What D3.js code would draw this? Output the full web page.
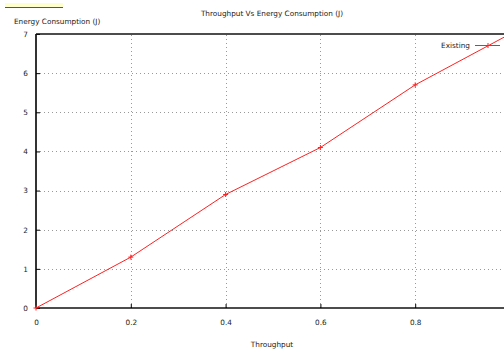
<!DOCTYPE html>
<html>
<head>
<meta charset="utf-8">
<script src="https://cdn.jsdelivr.net/npm/d3@7"></script>
<style>
body { margin: 0; background: #fff; }
text { font-family: "DejaVu Sans", sans-serif; font-size: 7.3px; fill: #222; }
</style>
</head>
<body>
<svg id="chart" width="504" height="352"></svg>
<script>
const throughput = [0, 0.2, 0.4, 0.6, 0.8, 1.0];
const energy = [0, 1.3, 2.9, 4.1, 5.7, 7.0];
const xTicks = [0, 0.2, 0.4, 0.6, 0.8];
const yTicks = [0, 1, 2, 3, 4, 5, 6, 7];

const svg = d3.select("#chart");
const x = d3.scaleLinear().domain([0, 1]).range([36, 510]);
const y = d3.scaleLinear().domain([0, 7]).range([308, 34]);

// yellow bar top-left
svg.append("rect").attr("x", 5).attr("y", 3).attr("width", 58).attr("height", 4).attr("fill", "#ffffcc");
svg.append("line").attr("x1", 5).attr("x2", 63).attr("y1", 7.5).attr("y2", 7.5).attr("stroke", "#555");

// grid
const grid = svg.append("g").attr("stroke", "#999").attr("stroke-dasharray", "1,3");
grid.selectAll(".gx").data(xTicks.slice(1)).join("line")
  .attr("x1", d => Math.round(x(d)) + 0.5).attr("x2", d => Math.round(x(d)) + 0.5)
  .attr("y1", y(0)).attr("y2", y(7));
grid.selectAll(".gy").data(yTicks.slice(1, -1)).join("line")
  .attr("x1", x(0)).attr("x2", 504)
  .attr("y1", d => Math.round(y(d)) + 0.5).attr("y2", d => Math.round(y(d)) + 0.5);

// axes
const xAxis = d3.axisBottom(x).tickValues(xTicks).tickSize(-4).tickPadding(12)
  .tickFormat(d => d === 0 ? "0" : d3.format(".1f")(d));
svg.append("g").attr("transform", `translate(0,${y(0)})`).call(xAxis)
  .call(g => g.select(".domain").attr("stroke", "#111").attr("stroke-width", 1.5).attr("d", `M${x(0)},0H504`))
  .call(g => g.selectAll("text").attr("font-family", null).attr("font-size", null).style("fill", "#222"));

const yAxis = d3.axisLeft(y).tickValues(yTicks).tickSize(-4).tickPadding(8).tickFormat(d3.format("d"));
svg.append("g").attr("transform", `translate(${x(0)},0)`).call(yAxis)
  .call(g => g.select(".domain").attr("stroke", "#333").attr("stroke-width", 2).attr("d", `M0,${y(0)}V${y(7)}`))
  .call(g => g.selectAll("text").attr("font-family", null).attr("font-size", null).style("fill", "#222"));

// top border
svg.append("line").attr("x1", x(0)).attr("x2", 504).attr("y1", y(7)).attr("y2", y(7))
  .attr("stroke", "#111").attr("stroke-width", 1.5);

// line
const pts = throughput.map((t, i) => [t, energy[i]]);
svg.append("path").datum(pts)
  .attr("fill", "none").attr("stroke", "#ff2020").attr("stroke-width", 1)
  .attr("d", d3.line().x(d => x(d[0])).y(d => y(d[1])));
svg.selectAll(".pt").data(pts).join("path")
  .attr("stroke", "#ff2020").attr("stroke-width", 1)
  .attr("d", d => `M${x(d[0]) - 2.5},${y(d[1])}h5M${x(d[0])},${y(d[1]) - 2.5}v5`);

// legend
svg.append("text").attr("x", 470).attr("y", 48).attr("text-anchor", "end").text("Existing");
svg.append("path").attr("stroke", "#ff2020").attr("stroke-width", 1).attr("fill", "none")
  .attr("d", "M475,45.5H500M488,43v5");

// titles
svg.append("text").attr("x", 272).attr("y", 16).attr("text-anchor", "middle").text("Throughput Vs Energy Consumption (J)");
svg.append("text").attr("x", 14).attr("y", 24).text("Energy Consumption (J)");
svg.append("text").attr("x", 272).attr("y", 347).attr("text-anchor", "middle").text("Throughput");
</script>
</body>
</html>
